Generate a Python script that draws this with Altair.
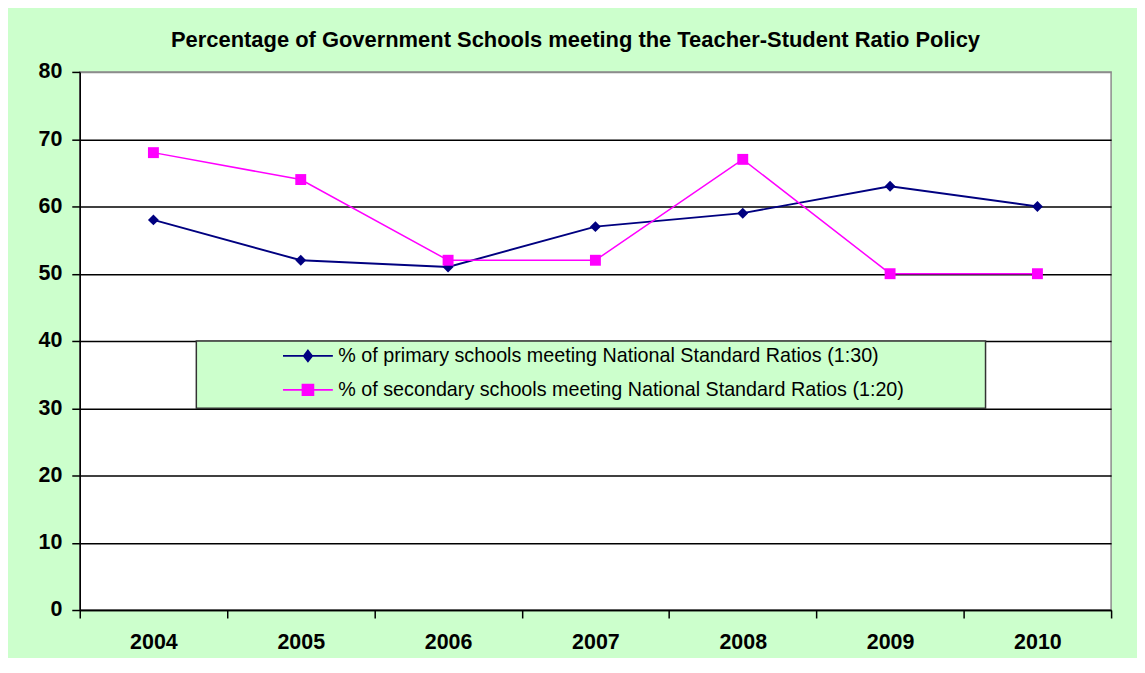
import altair as alt
import pandas as pd

years = ["2004", "2005", "2006", "2007", "2008", "2009", "2010"]
primary = [58, 52, 51, 57, 59, 63, 60]
secondary = [68, 64, 52, 52, 67, 50, 50]
series_names = [
    "% of primary schools meeting National Standard Ratios (1:30)",
    "% of secondary schools meeting National Standard Ratios (1:20)",
]
series_colors = ["#000080", "#ff00ff"]
series_widths = [1.9, 1.5]
title_text = "Percentage of Government Schools meeting the Teacher-Student Ratio Policy"

rows = []
for name, vals in zip(series_names, [primary, secondary]):
    for yr, v in zip(years, vals):
        rows.append({"Year": yr, "Value": v, "Series": name})
df = pd.DataFrame(rows)

FONT = "Arial, Liberation Sans, sans-serif"

x_enc = alt.X(
    "Year:N",
    sort=years,
    title=None,
    scale=alt.Scale(paddingInner=0, paddingOuter=0),
    axis=alt.Axis(
        labelAngle=0,
        tickBand="extent",
        grid=False,
        domainColor="#000000",
        domainWidth=1.5,
        tickColor="#000000",
        tickWidth=1.5,
        tickSize=8,
        labelFont=FONT,
        labelFontSize=21.5,
        labelFontWeight="bold",
        labelColor="#000000",
        labelPadding=14,
    ),
)
y_enc = alt.Y(
    "Value:Q",
    title=None,
    scale=alt.Scale(domain=[0, 80], nice=False),
    axis=alt.Axis(
        values=[0, 10, 20, 30, 40, 50, 60, 70, 80],
        grid=True,
        gridColor={"condition": {"test": "datum.value === 80", "value": "#8c8c8c"}, "value": "#000000"},
        gridWidth=1.5,
        domainColor="#000000",
        domainWidth=1.5,
        tickColor="#000000",
        tickWidth=1.5,
        tickSize=8,
        labelFont=FONT,
        labelFontSize=21.5,
        labelFontWeight="bold",
        labelColor="#000000",
        labelPadding=10,
    ),
)

box_df = pd.DataFrame({"top": [40], "bottom": [30]})
box = alt.Chart(box_df).mark_rect(
    fill="#ccffcc", stroke="#333333", strokeWidth=1.5
).encode(
    x=alt.value(117), x2=alt.value(909),
    y=alt.Y("top:Q", scale=alt.Scale(domain=[0, 80], nice=False)),
    y2="bottom:Q",
)

lines = alt.Chart(df).mark_line().encode(
    x=x_enc, y=y_enc,
    color=alt.Color("Series:N", scale=alt.Scale(domain=series_names, range=series_colors), legend=None),
    strokeWidth=alt.StrokeWidth("Series:N", scale=alt.Scale(domain=series_names, range=series_widths), legend=None),
)

pts = alt.Chart(df).mark_point(filled=True, size=120, opacity=1).encode(
    x=x_enc, y=y_enc,
    color=alt.Color("Series:N", scale=alt.Scale(domain=series_names, range=series_colors), legend=None),
    shape=alt.Shape("Series:N", scale=alt.Scale(domain=series_names, range=["diamond", "square"]), legend=None),
)

legend_props = dict(
    orient="none",
    legendX=203,
    legendY=271.5,
    title=None,
    padding=0,
    symbolSize=625,
    symbolOffset=12.5,
    symbolStrokeWidth=1.7,
    symbolOpacity=1,
    labelOffset=17,
    rowPadding=10,
    labelFont=FONT,
    labelFontSize=19.8,
    labelColor="#000000",
    labelLimit=800,
)
diamond_path = "M-2,0H2M0,-0.44L0.34,0L0,0.44L-0.34,0Z"
square_path = "M-2,0H2M-0.44,-0.42H0.44V0.42H-0.44Z"

leg = alt.Chart(df).transform_filter("false").mark_point(filled=True, size=625, opacity=1).encode(
    x=x_enc, y=y_enc,
    fill=alt.Fill("Series:N", scale=alt.Scale(domain=series_names, range=series_colors), legend=alt.Legend(**legend_props)),
    stroke=alt.Stroke("Series:N", scale=alt.Scale(domain=series_names, range=series_colors), legend=alt.Legend(**legend_props)),
    shape=alt.Shape("Series:N", scale=alt.Scale(domain=series_names, range=[diamond_path, square_path]), legend=alt.Legend(**legend_props)),
)

chart = alt.layer(box, lines, pts, leg).resolve_scale(
    color="independent", shape="independent", fill="independent", stroke="independent",
    strokeWidth="independent",
).properties(
    width=1035,
    height=540,
    autosize=alt.AutoSizeParams(type="none"),
    padding={"left": 72, "top": 63, "right": 26, "bottom": 47},
    background="#ccffcc",
    title=alt.TitleParams(
        text=title_text,
        font=FONT,
        fontSize=22,
        fontWeight="bold",
        color="#000000",
        anchor="middle",
        dx=-20,
        offset=9,
    ),
).configure_view(
    fill="#ffffff", stroke="#8c8c8c", strokeWidth=1.5
)

chart.save("out.html", embed_options={"renderer": "svg", "actions": False})
